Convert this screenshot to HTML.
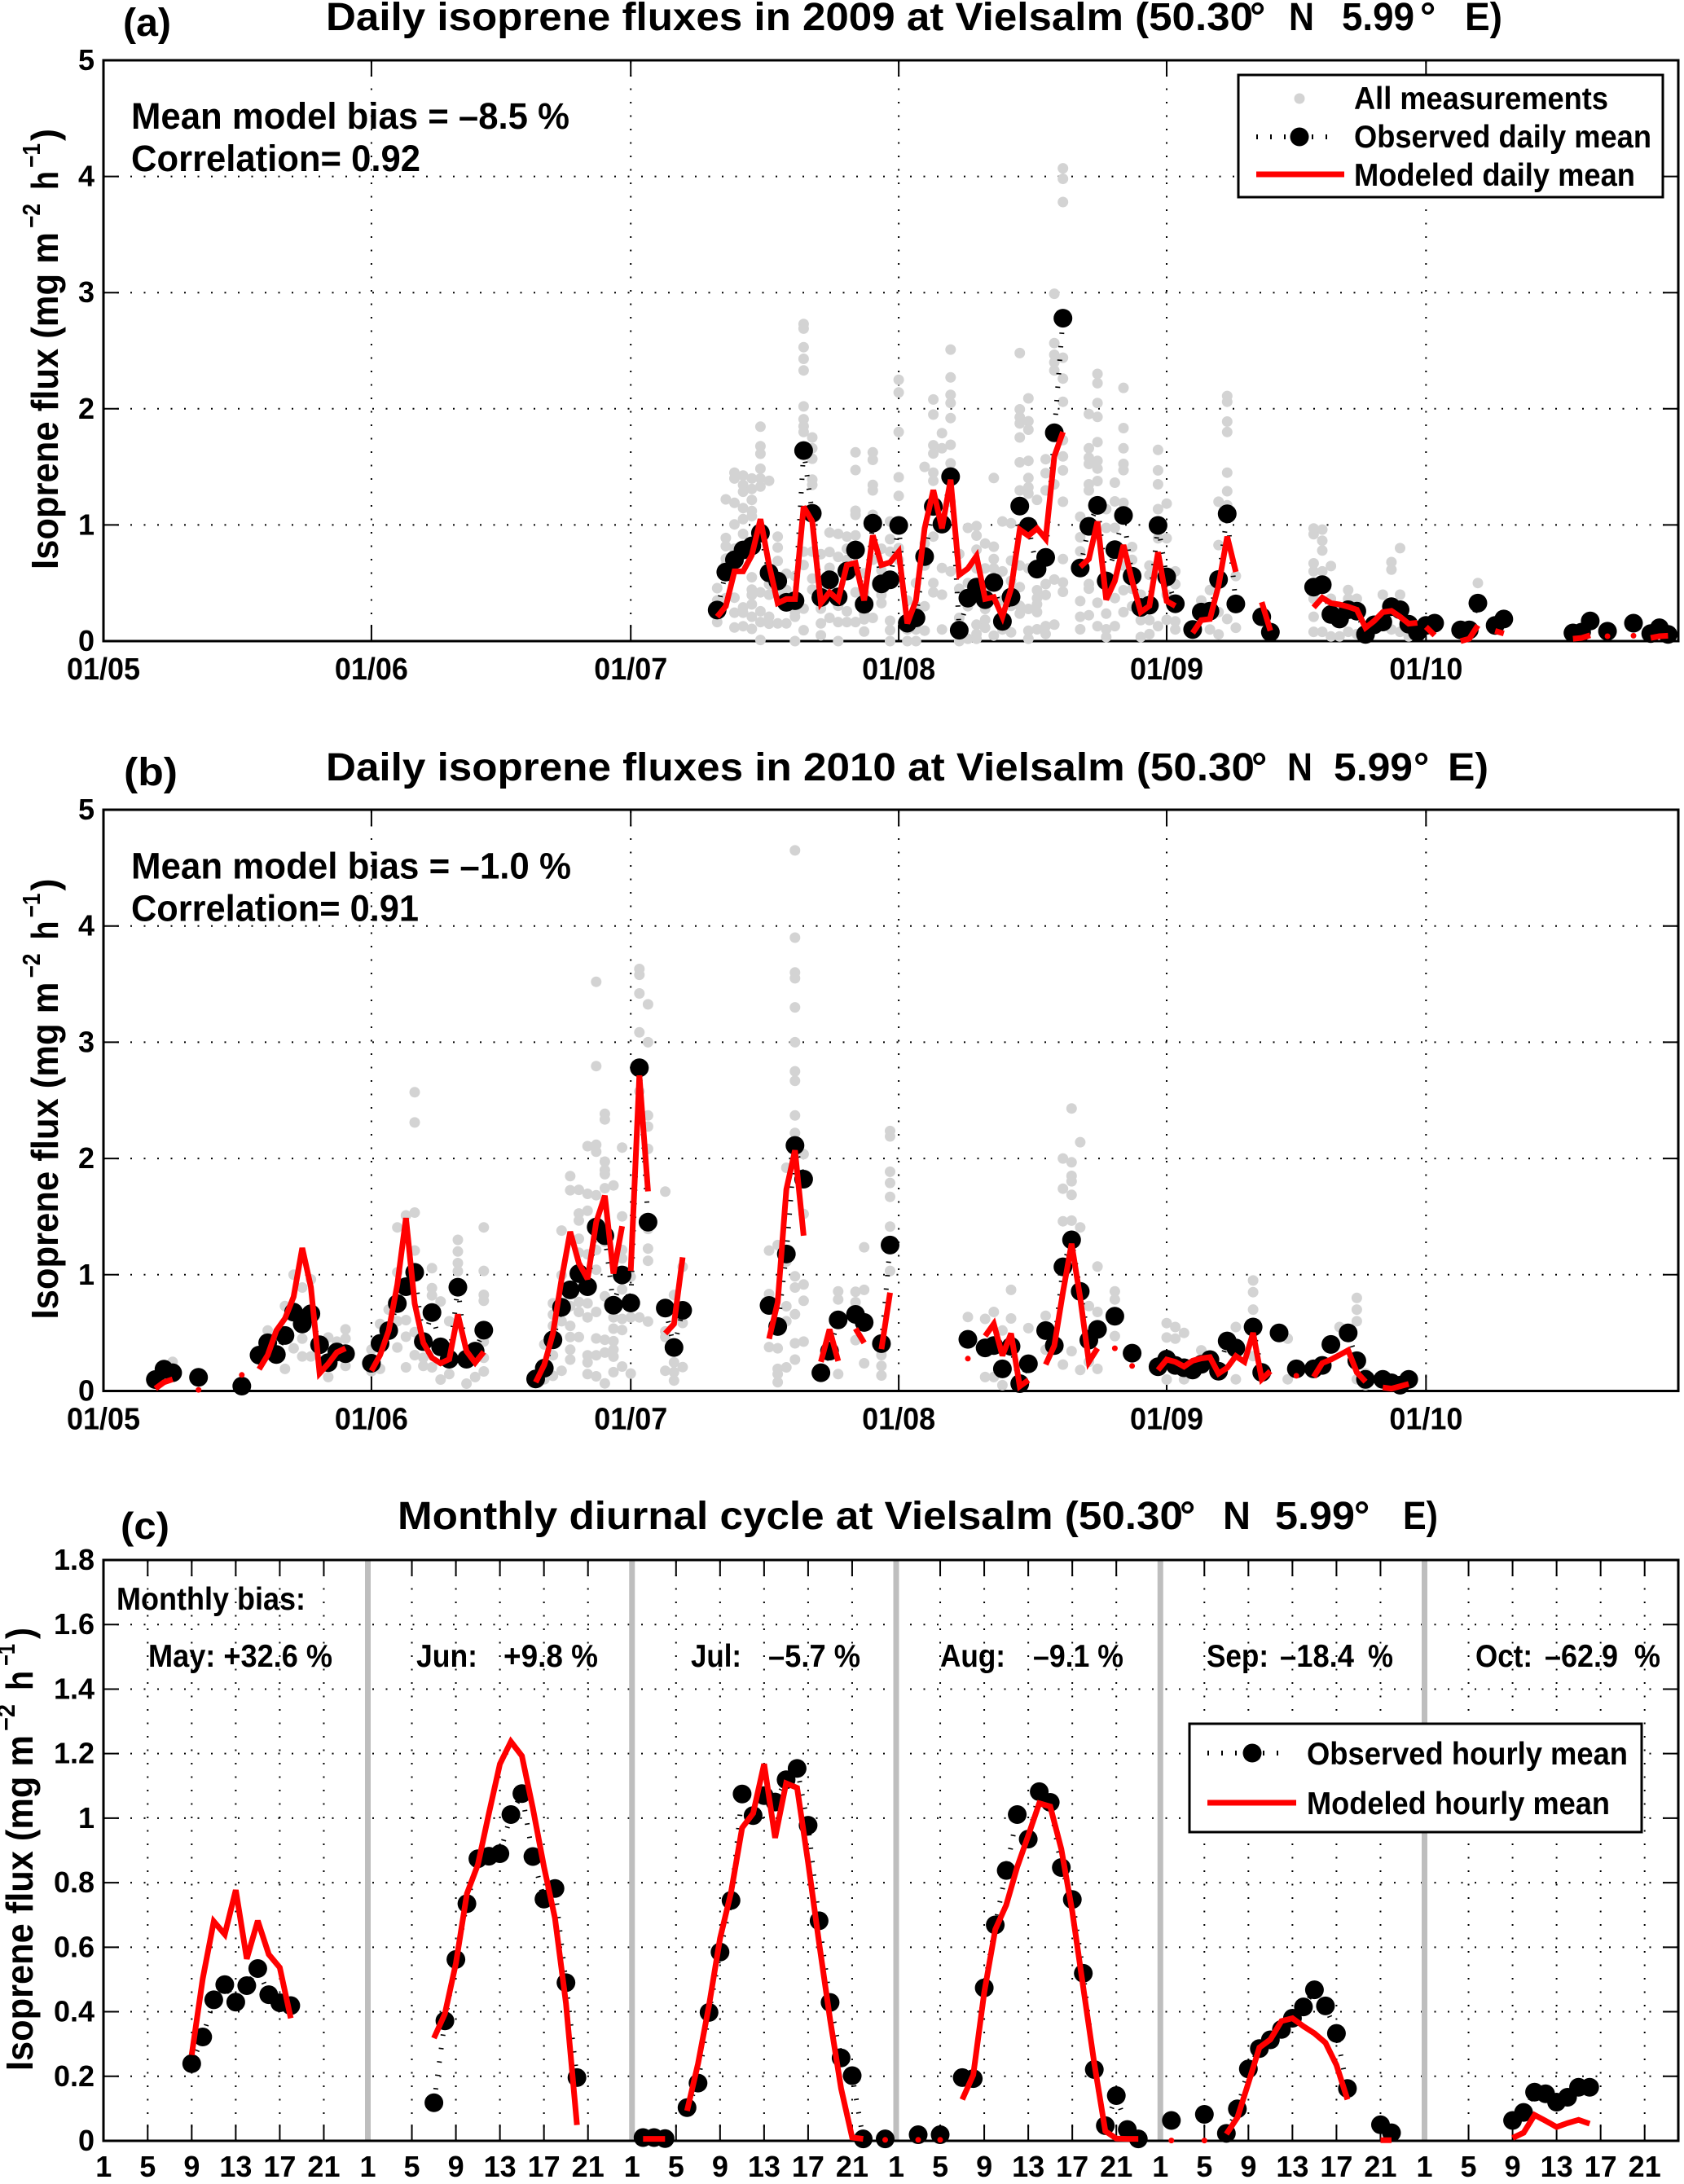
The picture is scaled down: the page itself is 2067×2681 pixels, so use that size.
<!DOCTYPE html>
<html>
<head>
<meta charset="utf-8">
<title>Isoprene fluxes at Vielsalm</title>
<style>
html,body{margin:0;padding:0;background:#fff;}
svg{display:block;}
text{font-family:"Liberation Sans",sans-serif;font-weight:bold;fill:#000;}
</style>
</head>
<body>
<svg xmlns="http://www.w3.org/2000/svg" width="2067" height="2681" viewBox="0 0 2067 2681">
<rect x="0" y="0" width="2067" height="2681" fill="#fff"/>

<g id="panel-a">
<g id="panel-a-marks"></g>
<text x="151" y="44" font-size="48" textLength="59" lengthAdjust="spacingAndGlyphs">(a)</text>
<text x="400" y="37" font-size="48" textLength="1138" lengthAdjust="spacingAndGlyphs">Daily isoprene fluxes in 2009 at Vielsalm (50.30</text>
<text x="1534" y="37" font-size="48">°</text>
<text x="1582" y="37" font-size="48" textLength="31" lengthAdjust="spacingAndGlyphs">N</text>
<text x="1647" y="37" font-size="48" textLength="89" lengthAdjust="spacingAndGlyphs">5.99</text>
<text x="1743" y="37" font-size="48">°</text>
<text x="1798" y="37" font-size="48" textLength="46" lengthAdjust="spacingAndGlyphs">E)</text>
<text transform="translate(71,699) rotate(-90)" font-size="46" textLength="414" lengthAdjust="spacingAndGlyphs">Isoprene flux (mg m</text>
<text transform="translate(49,280) rotate(-90)" font-size="31" textLength="30" lengthAdjust="spacingAndGlyphs">−2</text>
<text transform="translate(71,233) rotate(-90)" font-size="46" textLength="23" lengthAdjust="spacingAndGlyphs">h</text>
<text transform="translate(49,206) rotate(-90)" font-size="31" textLength="30" lengthAdjust="spacingAndGlyphs">−1</text>
<text transform="translate(71,173) rotate(-90)" font-size="46" textLength="15" lengthAdjust="spacingAndGlyphs">)</text>
<text x="161" y="158" font-size="45" textLength="538" lengthAdjust="spacingAndGlyphs">Mean model bias = –8.5 %</text>
<text x="161" y="210" font-size="45" textLength="355" lengthAdjust="spacingAndGlyphs">Correlation= 0.92</text>
<g>
<rect x="1520" y="92" width="521" height="150" fill="#fff" stroke="#000" stroke-width="3"/>
<circle cx="1595" cy="121" r="6.5" fill="#d3d3d3"/>
<line x1="1542" y1="168" x2="1642" y2="168" stroke="#000" stroke-width="6" stroke-dasharray="2 15"/>
<circle cx="1595" cy="168" r="11.5" fill="#000"/>
<line x1="1542" y1="214" x2="1650" y2="214" stroke="#f00" stroke-width="7"/>
<text x="1662" y="134" font-size="39" textLength="312" lengthAdjust="spacingAndGlyphs">All measurements</text>
<text x="1662" y="181" font-size="39" textLength="365" lengthAdjust="spacingAndGlyphs">Observed daily mean</text>
<text x="1662" y="228" font-size="39" textLength="345" lengthAdjust="spacingAndGlyphs">Modeled daily mean</text>
</g>
</g>

<g id="panel-b">
<g id="panel-b-marks"></g>
<text x="152" y="964" font-size="48" textLength="66" lengthAdjust="spacingAndGlyphs">(b)</text>
<text x="400" y="958" font-size="48" textLength="1140" lengthAdjust="spacingAndGlyphs">Daily isoprene fluxes in 2010 at Vielsalm (50.30</text>
<text x="1536" y="958" font-size="48">°</text>
<text x="1580" y="958" font-size="48" textLength="31" lengthAdjust="spacingAndGlyphs">N</text>
<text x="1637" y="958" font-size="48" textLength="97" lengthAdjust="spacingAndGlyphs">5.99</text>
<text x="1735" y="958" font-size="48">°</text>
<text x="1777" y="958" font-size="48" textLength="50" lengthAdjust="spacingAndGlyphs">E)</text>
<text transform="translate(71,1619.5) rotate(-90)" font-size="46" textLength="414" lengthAdjust="spacingAndGlyphs">Isoprene flux (mg m</text>
<text transform="translate(49,1200.5) rotate(-90)" font-size="31" textLength="30" lengthAdjust="spacingAndGlyphs">−2</text>
<text transform="translate(71,1153.5) rotate(-90)" font-size="46" textLength="23" lengthAdjust="spacingAndGlyphs">h</text>
<text transform="translate(49,1126.5) rotate(-90)" font-size="31" textLength="30" lengthAdjust="spacingAndGlyphs">−1</text>
<text transform="translate(71,1093.5) rotate(-90)" font-size="46" textLength="15" lengthAdjust="spacingAndGlyphs">)</text>
<text x="161" y="1078.5" font-size="45" textLength="540" lengthAdjust="spacingAndGlyphs">Mean model bias = –1.0 %</text>
<text x="161" y="1130.5" font-size="45" textLength="353" lengthAdjust="spacingAndGlyphs">Correlation= 0.91</text>
</g>

<g id="panel-c">
<g id="panel-c-marks"></g>
<text x="148" y="1889" font-size="46" textLength="60" lengthAdjust="spacingAndGlyphs">(c)</text>
<text x="488" y="1877" font-size="48" textLength="964" lengthAdjust="spacingAndGlyphs">Monthly diurnal cycle at Vielsalm (50.30</text>
<text x="1448" y="1877" font-size="48">°</text>
<text x="1501" y="1877" font-size="48" textLength="34" lengthAdjust="spacingAndGlyphs">N</text>
<text x="1565" y="1877" font-size="48" textLength="98" lengthAdjust="spacingAndGlyphs">5.99</text>
<text x="1662" y="1877" font-size="48">°</text>
<text x="1722" y="1877" font-size="48" textLength="43" lengthAdjust="spacingAndGlyphs">E)</text>
<text transform="translate(40,2542) rotate(-90)" font-size="46" textLength="412" lengthAdjust="spacingAndGlyphs">Isoprene flux (mg m</text>
<text transform="translate(18,2125) rotate(-90)" font-size="31" textLength="33" lengthAdjust="spacingAndGlyphs">−2</text>
<text transform="translate(40,2075) rotate(-90)" font-size="46" textLength="24" lengthAdjust="spacingAndGlyphs">h</text>
<text transform="translate(18,2045) rotate(-90)" font-size="31" textLength="27" lengthAdjust="spacingAndGlyphs">−1</text>
<text transform="translate(40,2012) rotate(-90)" font-size="46" textLength="14" lengthAdjust="spacingAndGlyphs">)</text>
<text x="143" y="1976" font-size="39" textLength="232" lengthAdjust="spacingAndGlyphs">Monthly bias:</text>
<text x="182" y="2046" font-size="39" textLength="226" lengthAdjust="spacingAndGlyphs">May: +32.6 %</text>
<text x="511" y="2046" font-size="39" textLength="75" lengthAdjust="spacingAndGlyphs">Jun:</text>
<text x="618" y="2046" font-size="39" textLength="116" lengthAdjust="spacingAndGlyphs">+9.8 %</text>
<text x="848" y="2046" font-size="39" textLength="62" lengthAdjust="spacingAndGlyphs">Jul:</text>
<text x="943" y="2046" font-size="39" textLength="113" lengthAdjust="spacingAndGlyphs">–5.7 %</text>
<text x="1154" y="2046" font-size="39" textLength="80" lengthAdjust="spacingAndGlyphs">Aug:</text>
<text x="1268" y="2046" font-size="39" textLength="111" lengthAdjust="spacingAndGlyphs">–9.1 %</text>
<text x="1481" y="2046" font-size="39" textLength="76" lengthAdjust="spacingAndGlyphs">Sep:</text>
<text x="1571" y="2046" font-size="39" textLength="91" lengthAdjust="spacingAndGlyphs">–18.4</text>
<text x="1679" y="2046" font-size="39" textLength="31" lengthAdjust="spacingAndGlyphs">%</text>
<text x="1811" y="2046" font-size="39" textLength="70" lengthAdjust="spacingAndGlyphs">Oct:</text>
<text x="1896" y="2046" font-size="39" textLength="90" lengthAdjust="spacingAndGlyphs">–62.9</text>
<text x="2006" y="2046" font-size="39" textLength="32" lengthAdjust="spacingAndGlyphs">%</text>
<g>
<rect x="1460" y="2116" width="555" height="133" fill="#fff" stroke="#000" stroke-width="3"/>
<line x1="1482" y1="2152" x2="1583" y2="2152" stroke="#000" stroke-width="6" stroke-dasharray="2 15"/>
<circle cx="1537" cy="2152" r="11.5" fill="#000"/>
<line x1="1482" y1="2213" x2="1591" y2="2213" stroke="#f00" stroke-width="7"/>
<text x="1604" y="2166" font-size="39" textLength="394" lengthAdjust="spacingAndGlyphs">Observed hourly mean</text>
<text x="1604" y="2227" font-size="39" textLength="372" lengthAdjust="spacingAndGlyphs">Modeled hourly mean</text>
</g>
</g>
</svg>

<script>
// ---------- shared tick data ----------
var monthTickDays = [0,31,61,92,123,153];
var monthTickLabels = ['01/05','01/06','01/07','01/08','01/09','01/10'];
var fluxTicks = [0,1,2,3,4,5];
var diurnalTicksY = [0,0.2,0.4,0.6,0.8,1,1.2,1.4,1.6,1.8];
var diurnalTickLabelsY = ['0','0.2','0.4','0.6','0.8','1','1.2','1.4','1.6','1.8'];
var hourTicks = [1,5,9,13,17,21];

// ---------- panel (a) 2009 ----------
var obsDaysA = [71,72,73,74,75,76,77,78,79,80,81,82,83,84,85,86,87,88,89,90,91,92,93,94,95,96,97,98,99,100,101,102,103,104,105,106,107,108,109,110,111,113,114,115,116,117,118,119,120,121,122,123,124,126,127,128,129,130,131,134,135,140,141,142,143,144,145,146,147,148,149,150,151,152,153,154,157,158,159,161,162,170,171,172,174,177,179,180,181];
var obsValsA = [.267,.594,.70,.785,.82,.93,.587,.517,.334,.348,1.64,1.10,.376,.528,.38,.603,.785,.318,1.015,.493,.528,.996,.154,.20,.727,1.16,1.007,1.416,.094,.37,.465,.357,.505,.17,.379,1.163,.988,.62,.72,1.794,2.78,.63,.988,1.168,.518,.787,1.082,.559,.29,.309,.996,.553,.322,.10,.25,.258,.53,1.096,.32,.21,.077,.465,.485,.23,.19,.27,.258,.058,.14,.165,.296,.27,.146,.077,.135,.154,.096,.096,.327,.135,.19,.07,.077,.173,.085,.154,.065,.115,.058];
var modelDaysA = [71,72,73,74,75,76,77,78,79,80,81,82,83,84,85,86,87,88,89,90,91,92,93,94,95,96,97,98,99,100,101,102,103,104,105,106,107,108,109,110,111,113,114,115,116,117,118,119,120,121,122,123,124,126,127,128,129,130,131,134,135,140,141,142,143,144,145,146,147,148,149,150,151,152,153,154,157,158,159,161,162,170,171,172,174,177,179,180,181];
var modelValsA = [.21,.30,.60,.60,.74,1.05,.655,.327,.362,.362,1.157,1.03,.327,.42,.355,.655,.673,.35,.91,.655,.678,.77,.152,.35,.97,1.30,.97,1.39,.57,.625,.733,.363,.379,.21,.45,.96,.907,.97,.88,1.59,1.80,.64,.706,1.03,.357,.518,.827,.518,.25,.303,.765,.344,.303,.07,.18,.19,.48,.90,.596,.335,.09,.29,.373,.327,.315,.296,.27,.115,.173,.25,.26,.21,.15,.158,.123,.05,0,.02,.135,.088,.065,.02,.027,.05,.042,.046,.027,.042,.046];
var modelBreaksA = [153];
var measDaysA = [71,72,73,74,75,76,77,78,79,80,81,82,83,84,85,86,87,88,89,90,91,92,93,94,95,96,97,98,99,100,101,102,103,104,105,106,107,108,109,110,111,113,114,115,116,117,118,119,120,121,122,123,124,127,128,129,130,131,140,141,142,143,144,145,148,149,150,151,159];
var measValsA = [
[.456,.35,.164],[1.22,.888,.818,.71,.654,.37],[1.45,1.40,1.19,1.005,.795,.374,.245,.117],[1.426,1.344,1.286,1.145,1.05,.923,.29,.245,.128],[1.40,1.31,1.215,1.12,1.075,.55,.444,.397,.316,.21,.105],[1.846,1.678,1.613,1.484,1.40,1.33,.935,.42,.257,.164,.01],[1.38,.49,.4,.21,.15],[.9,.806,.69,.152,.4],[.58,.44,.152,.35],[.56,.21,0,.25],
[2.73,2.69,2.53,2.43,2.33,2.02,1.91,1.85,1.80,.77,.655,.28,.094],[1.753,1.66,1.57,1.39,1.344,.77,.538,.444],[.748,.444,.28,.152,.05],[.935,.767,.631,.2,.45],[.923,.725,.304,.164,0],[.9,.795,.70,.257,.164],[1.625,1.473,1.122,1.087,.91,.795,.42,.164],[.584,.41,.234,.187,.082],[1.625,1.56,1.344,1.297,1.087,.2,.7],[.795,.608,.397,.327],
[1.03,.877,.77,.175,.094,0],[2.25,2.14,1.80,1.41,1.25,1.0,.8,.7],[.2,.1,0,.35],[.1,0,.3,.5],[1.5,.84,.65,.09,.3],[2.08,1.95,1.686,1.615,1.45,1.38,.9,.5,.42],[1.79,1.66,1.04,.63,.4,.1],[2.51,2.27,2.12,2.05,1.92,1.69,1.53,1.2,.6],[.75,.45,.2,.05,0],[.975,.02,.5,.3],
[.99,.908,.787,.626,.142,.062,.02],[.84,.626,.277,.183,.115],[1.404,.813,.706,.626,.048],[1.03,.6,.35,.1],[1.015,.693,.518,.303,.075],[2.48,1.995,1.928,1.874,1.753,1.539,1.297,.65,.465,.303,.236],[2.09,1.893,1.82,1.552,1.404,1.324,1.27,.626,.277,.089,.02],[1.216,.438,.37,.317,.25,.102],[1.566,1.445,1.297,.491,.397,.129,.062],[2.99,2.565,2.465,2.4,2.33,1.35,.53,.142],
[4.07,3.98,3.78,2.44,2.26,2.06,1.73,1.59,1.47,1.2,.706,.505,.424],[1.07,.894,.773,.344,.21,.102],[1.955,1.66,1.579,1.525,1.35,1.297,.491,.451,.223],[2.3,2.22,2.05,1.93,1.713,1.552,1.485,1.378,.33,.129],[1.136,.975,.236,.102,.035],[1.364,1.203,.975,.37,.129],[2.18,1.834,1.66,1.525,1.472,1.19,.65,.438,.25],[.81,.7,.3,.45],[.035,.18,.4],[.65,.57,.18,.06],
[1.646,1.47,1.35,1.136,.885,.129],[1.184,.885,.183,.4],[.6,.49,.17,.1],[.35],[.44,.1],[1.2,.827,.25,.058],[2.11,2.06,1.89,1.8,1.45,1.29,1.17,.19],[.56,.115],[.97,.92,.67,.6,.365,.21,.08],[.96,.865,.78,.6,.08],
[.646,.365,.04],[.25,.04],[.44,.365,.08],[.365,.06],[.4,.15],[.68,.615,.1],[.8,.4,.08],[.04],[.5]];

// ---------- panel (b) 2010 ----------
var obsDaysB = [6,7,8,11,16,18,19,20,21,22,23,24,25,26,27,28,31,32,33,34,35,36,37,38,39,40,41,42,43,44,50,51,52,53,54,55,56,57,58,59,60,61,62,63,65,66,67,77,78,79,80,81,83,84,85,87,88,90,91,100,102,103,104,105,106,107,109,110,111,112,113,114,115,117,119,122,123,124,125,126,127,128,129,130,131,133,134,136,138,140,141,142,144,145,146,148,149,150,151];
var obsValsB = [.098,.187,.157,.117,.042,.308,.414,.313,.477,.678,.577,.664,.397,.243,.336,.32,.238,.409,.519,.752,.897,1.02,.425,.675,.379,.273,.893,.273,.343,.523,.103,.196,.44,.72,.87,1.01,.897,1.41,1.336,.738,.998,.757,2.78,1.453,.713,.374,.694,.736,.554,1.178,2.112,1.822,.157,.343,.612,.659,.589,.407,1.255,.444,.371,.39,.19,.383,.063,.234,.519,.39,1.068,1.30,.857,.437,.53,.643,.325,.208,.273,.22,.2,.18,.23,.27,.17,.43,.37,.55,.16,.5,.19,.19,.22,.4,.5,.26,.1,.1,.07,.05,.1];
var modelDaysB = [6,7,8,11,16,18,19,20,21,22,23,24,25,26,27,28,31,32,33,34,35,36,37,38,39,40,41,42,43,44,50,51,52,53,54,55,56,57,58,59,60,61,62,63,65,66,67,77,78,79,80,81,83,84,85,87,88,90,91,100,102,103,104,105,106,107,109,110,111,112,113,114,115,117,119,122,123,124,125,126,127,128,129,130,131,132,133,134,135,138,140,141,142,143,144,145,146,148,149,150,151];
var modelValsB = [.02,.075,.10,.01,.138,.187,.308,.519,.624,.81,1.23,.893,.152,.234,.332,.367,.173,.308,.519,.916,1.488,.752,.414,.285,.238,.273,.659,.343,.243,.336,.075,.227,.495,.963,1.37,1.10,.963,1.453,1.68,1.01,1.418,1.033,2.715,1.717,.495,.577,1.15,.449,.764,1.733,2.07,1.336,.25,.53,.257,.537,.414,.36,.846,.278,.472,.577,.304,.495,.04,.093,.227,.39,.85,1.266,.80,.25,.367,.367,.215,.18,.27,.25,.21,.26,.28,.29,.15,.2,.3,.25,.5,.1,.17,.13,.12,.24,.27,.31,.35,.16,.08,.03,.02,.04,.06];
var modelBreaksB = [61];
var measDaysB = [8,19,21,22,23,24,26,27,28,31,32,33,34,35,36,37,38,39,40,41,42,43,44,51,52,53,54,55,56,57,58,59,60,61,62,63,65,66,67,77,78,79,80,81,85,87,88,90,91,100,102,103,104,105,107,109,111,112,113,114,115,117,123,124,125,127,131,133,137,143,145,146];
var measValsB = [
[.25],[.52],[.73,.19],[1.0,.717,.367],[.89,.45,.297],[.96,.297],[.46,.12],[.425],[.53,.45,.215],[.355,.17],[.577,.19],[.7],[1.407,1.02,.6,.374],[1.51,.61,.467,.203],[2.57,2.31,1.535,1.208,.507,.308],[.285,.215],[1.056,.885,.822,.203],[.77,.098],[.6,.145],[1.3,1.2,1.1,1.03],[.063],[.12],[1.407,1.033,.827,.776,.425,.285,.168],
[.4,.1],[.754,.657,.56,.307,.13],[1.38,.995,.6,.174],[1.848,1.727,.73,.56,.464,.355,.27],[1.73,1.527,1.466,1.31,1.19,.766,.68,.464],[2.106,1.696,1.55,1.176,.754,.633,.307,.246,.145],[3.52,2.795,2.118,2.058,1.684,1.213,1.043,.68,.452,.307,.126],[2.384,2.336,1.973,1.90,1.865,1.744,1.285,.814,.44,.33,.065],[1.768,.633,.536,.428,.355,.295,.162],[2.094,1.502,1.213,1.14,.874,.62,.524,.21],[.983,.633,.15],[3.63,3.58,3.42,3.085,2.577,.633],[3.326,3.0,2.37,2.275,2.082,1.394,1.225,1.12,.597],[1.715,.512,.464,.174],[.826,.246,.162,.09],[1.068,.585,.205],
[1.208,.834,.378],[1.255,.367,.19,.145,.075],[1.92,1.114,.729,.6,.203],[4.65,3.9,3.6,3.55,3.3,3.0,2.75,2.668,2.37,2.22,.986,.89,.66,.41,.27],[2.037,1.523,.916,.776,.425],[.857,.787,.145],[.853,.764,.437],[1.236,.87,.238],[.308,.215,.133],[2.236,2.19,1.886,1.79,1.67,1.414,1.033],
[.636],[.62,.12],[.68,.12],[.52,.05],[.87,.624],[.54],[.647,.355],[2.0,1.74,1.46,.227],[2.43,1.967,1.85,1.804,1.687,1.465,.343],[2.14,1.407,.18],[.73,.25],[1.07,.68,.19],[.857,.787,.472],[.584,.46,.098],[.55,.45],[.5,.1],[.35],[.55,.1],[.95,.85,.7,.3],[.45,.1],[.55],[.8,.7,.6,.1],[.15,.05]];

// ---------- panel (c) diurnal, one sub-array per month ----------
var obsHoursC = [
[9,10,11,12,13,14,15,16,17,18],
[7,8,9,10,11,12,13,14,15,16,17,18,19,20],
[2,3,4,6,7,8,9,10,11,12,13,14,15,16,17,18,19,20,21,22,24],
[3,5,7,8,9,10,11,12,13,14,15,16,17,18,19,20,21,22,23],
[2,5,7,8,9,10,11,12,13,14,15,16,17,18,21,22],
[9,10,11,12,13,14,15,16]];
var obsValsC = [
[.239,.322,.437,.484,.43,.481,.534,.453,.428,.419],
[.118,.372,.562,.735,.874,.882,.89,1.011,1.076,.881,.749,.782,.49,.196],
[.01,.01,.007,.103,.179,.398,.585,.745,1.075,1.008,1.07,1.05,1.119,1.154,.978,.682,.429,.257,.202,.006,.006],
[.019,.019,.196,.193,.474,.669,.838,1.011,.935,1.082,1.049,.847,.748,.519,.221,.047,.14,.035,.006],
[.063,.082,.023,.099,.223,.286,.313,.345,.38,.415,.468,.418,.333,.162,.05,.025],
[.063,.088,.151,.146,.12,.135,.166,.166]];
var modelHoursC = [
[9,10,11,12,13,14,15,16,17,18],
[7,8,9,10,11,12,13,14,15,16,17,18,19,20],
[2,3,4,6,7,8,9,10,11,12,13,14,15,16,17,18,19,20,21,22,24],
[3,5,7,8,9,10,11,12,13,14,15,16,17,18,19,20,21,22,23],
[2,5,7,8,9,10,11,12,13,14,15,16,17,18,21,22],
[9,10,11,12,13,14,15,16]];
var modelValsC = [
[.266,.502,.68,.64,.777,.564,.682,.578,.537,.38],
[.318,.394,.55,.766,.856,1.015,1.168,1.237,1.193,1.03,.849,.69,.426,.049],
[.006,.006,.006,.093,.239,.42,.627,.77,.97,1.015,1.168,.939,1.108,1.094,.863,.613,.376,.162,.01,.006,.003],
[.003,.003,.128,.204,.46,.655,.731,.849,.946,1.046,1.036,.904,.71,.474,.239,.03,.007,.006,.006],
[.001,.001,.021,.072,.179,.289,.314,.371,.38,.355,.333,.304,.235,.128,.002,.002],
[.009,.025,.08,.062,.043,.055,.065,.053]];

// ---------- axis functions ----------
var SVGNS = 'http://www.w3.org/2000/svg';
var LEFT = 127, RIGHT = 2060;
function xDay(d){ return 127 + 10.61*d; }
function makeY(y0, unit){ return function(v){ return y0 - unit*v; }; }
var yA = makeY(787, 142.6);
var yB = makeY(1707.5, 142.7);
var yC = makeY(2628, 396.1);
function xHour(m, h){ return 127.25 + 324.25*m + 13.51*(h-1); }
function mk(tag, attrs, parent){
  var el = document.createElementNS(SVGNS, tag);
  for (var k in attrs) el.setAttribute(k, attrs[k]);
  parent.appendChild(el);
  return el;
}

function drawFrame(g, top, bottom){
  var el = mk('rect', {x:LEFT, y:top, width:RIGHT-LEFT, height:bottom-top, fill:'none', stroke:'#000', 'stroke-width':3}, g);
  
  
}
function drawVTick(g, x, top, bottom, label, size, labelY, fitWidth){
  var grid = mk('line', {x1:x, y1:bottom, x2:x, y2:top, stroke:'#000', 'stroke-width':2, 'stroke-dasharray':'2 14.5'}, g);
  
  
  var t1 = mk('line', {x1:x, y1:bottom, x2:x, y2:bottom-20, stroke:'#000', 'stroke-width':2}, g);
  
  
  var t2 = mk('line', {x1:x, y1:top, x2:x, y2:top+20, stroke:'#000', 'stroke-width':2}, g);
  
  
  var tx = mk('text', {x:x, y:labelY, 'font-size':size, 'text-anchor':'middle'}, g);
  if (fitWidth){ tx.setAttribute('textLength', fitWidth); tx.setAttribute('lengthAdjust', 'spacingAndGlyphs'); }
  tx.textContent = label;
  
  
}
function drawHTick(g, y, label, withGrid){
  if (withGrid){
    var grid = mk('line', {x1:LEFT, y1:y, x2:RIGHT, y2:y, stroke:'#000', 'stroke-width':2, 'stroke-dasharray':'2 14.5'}, g);
    
    
    var t1 = mk('line', {x1:LEFT, y1:y, x2:LEFT+19, y2:y, stroke:'#000', 'stroke-width':2}, g);
    
    
    var t2 = mk('line', {x1:RIGHT, y1:y, x2:RIGHT-19, y2:y, stroke:'#000', 'stroke-width':2}, g);
    
    
  }
  var tx = mk('text', {x:116, y:y+12, 'font-size':36, 'text-anchor':'end'}, g);
  tx.textContent = label;
  
  
}
function splitRuns(xs, vals, breaks){
  var runs = [], cur = [];
  for (var i=0;i<xs.length;i++){
    if (i>0 && (xs[i]-xs[i-1]>1 || breaks.indexOf(xs[i])>=0)){ runs.push(cur); cur = []; }
    cur.push([xs[i], vals[i]]);
  }
  if (cur.length) runs.push(cur);
  return runs;
}
function pathOf(run, fx, fy){
  var s = '';
  for (var i=0;i<run.length;i++) s += (i?'L':'M') + fx(run[i][0]).toFixed(1) + ' ' + fy(run[i][1]).toFixed(1);
  return s;
}
function drawMeasurements(g, days, vals, fy){
  for (var i=0;i<days.length;i++){
    for (var j=0;j<vals[i].length;j++){
      var c = mk('circle', {cx:xDay(days[i]).toFixed(1), cy:fy(vals[i][j]).toFixed(1), r:6.5, fill:'#d3d3d3'}, g);
      
      
    }
  }
}
function drawObserved(g, xs, vals, fx, fy){
  var runs = splitRuns(xs, vals, []);
  for (var r=0;r<runs.length;r++){
    if (runs[r].length < 2) continue;
    var p = mk('path', {d:pathOf(runs[r], fx, fy), fill:'none', stroke:'#000', 'stroke-width':6, 'stroke-dasharray':'1.6 15'}, g);
    
    
  }
  for (var i=0;i<xs.length;i++){
    var c = mk('circle', {cx:fx(xs[i]).toFixed(1), cy:fy(vals[i]).toFixed(1), r:11.5, fill:'#000'}, g);
    
    
  }
}
function drawModel(g, xs, vals, breaks, fx, fy){
  var runs = splitRuns(xs, vals, breaks);
  for (var r=0;r<runs.length;r++){
    if (runs[r].length === 1){
      var d = mk('circle', {cx:fx(runs[r][0][0]).toFixed(1), cy:fy(runs[r][0][1]).toFixed(1), r:3.5, fill:'#f00'}, g);
      
      
    } else {
      var p = mk('path', {d:pathOf(runs[r], fx, fy), fill:'none', stroke:'#f00', 'stroke-width':7, 'stroke-linejoin':'miter', 'stroke-miterlimit':3}, g);
      
      
    }
  }
}
function drawDaily(g, fy, top, bottom, measDays, measVals, obsDays, obsVals, modelDays, modelVals, modelBreaks){
  var i;
  for (i=0;i<monthTickDays.length;i++) drawVTick(g, xDay(monthTickDays[i]), top, bottom, monthTickLabels[i], 38, bottom+47, 90);
  for (i=0;i<fluxTicks.length;i++){
    var inner = fluxTicks[i]>0 && fluxTicks[i]<5;
    drawHTick(g, fy(fluxTicks[i]), String(fluxTicks[i]), inner);
  }
  drawFrame(g, top, bottom);
  drawMeasurements(g, measDays, measVals, fy);
  drawObserved(g, obsDays, obsVals, xDay, fy);
  drawModel(g, modelDays, modelVals, modelBreaks, xDay, fy);
}

drawDaily(document.getElementById('panel-a-marks'), yA, 74, 787, measDaysA, measValsA, obsDaysA, obsValsA, modelDaysA, modelValsA, modelBreaksA);
drawDaily(document.getElementById('panel-b-marks'), yB, 994, 1707.5, measDaysB, measValsB, obsDaysB, obsValsB, modelDaysB, modelValsB, modelBreaksB);

(function(){
  var g = document.getElementById('panel-c-marks');
  var top = 1915, bottom = 2628, m, i;
  for (m=0;m<6;m++){
    for (i=0;i<hourTicks.length;i++){
      drawVTick(g, xHour(m, hourTicks[i]), top, bottom, String(hourTicks[i]), 36, 2672, 0);
    }
  }
  for (i=0;i<diurnalTicksY.length;i++){
    var inner = i>0 && i<diurnalTicksY.length-1;
    drawHTick(g, yC(diurnalTicksY[i]), diurnalTickLabelsY[i], inner);
  }
  for (m=1;m<6;m++){
    var b = mk('line', {x1:xHour(m,1), y1:top, x2:xHour(m,1), y2:bottom, stroke:'#bebebe', 'stroke-width':7}, g);
    
    
  }
  drawFrame(g, top, bottom);
  for (m=0;m<6;m++){
    var fx = (function(mm){ return function(h){ return xHour(mm, h); }; })(m);
    drawObserved(g, obsHoursC[m], obsValsC[m], fx, yC);
    drawModel(g, modelHoursC[m], modelValsC[m], [], fx, yC);
  }
})();
</script>
</body>
</html>
